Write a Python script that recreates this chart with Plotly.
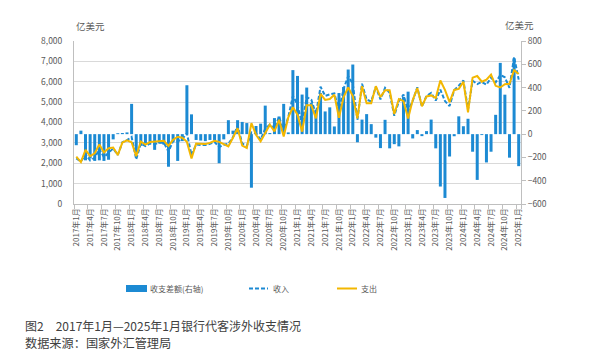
import plotly.graph_objects as go

# ---------------- data (亿美元) ----------------
months = [f"{y}年{m}月" for y in range(2017, 2026) for m in range(1, 13)][:97]

balance = [  # 收支差额(右轴)
    -95, 30, -225, -210, -230, -225, -230, -220, -45, 8, 10, 15,
    260, -160, -100, -80, -70, -135, -80, -90, -280, -60, -230, -60,
    420, 170, -50, -55, -60, -50, -55, -250, -45, 120, 30, 120,
    105, 95, -460, 70, 90, 245, 10, 138, 152, 260, 15, 550,
    500, 340, 400, 267, 210, 353, 195, 230, 66, 353, 405, 555,
    598, -70, 125, 172, 86, -30, -120, 123, -122, -86, -105, 320,
    365, -37, 35, -17, 26, 125, -122, -450, -548, -192, -18, 153,
    68, 132, -151, -393, -8, -243, -151, 166, 612, 339, -202, 650,
    -275,
]

receipts = [  # 收入
    2235, 2090, 2435, 2140, 2260, 2695, 2300, 2520, 2725, 2408, 3030, 3135,
    3290, 2190, 2970, 2840, 2970, 2935, 3010, 3010, 2570, 3090, 3070, 3190,
    3470, 2400, 2920, 2895, 2890, 2950, 3045, 2800, 2905, 2950, 3280, 3840,
    2975, 2845, 3510, 3470, 3160, 3695, 3900, 3698, 4282, 3570, 4265, 5300,
    4880, 3890, 5250, 5117, 4410, 5753, 5305, 5380, 5426, 4583, 5655, 6275,
    5898, 4130, 5905, 5122, 5036, 5750, 5130, 5703, 5458, 4334, 5045, 5370,
    4565, 5063, 5725, 4783, 5306, 5455, 5078, 5610, 5052, 4808, 5582, 5803,
    6068, 4632, 6049, 5887, 5992, 5857, 6199, 5966, 6332, 6219, 5698, 7220,
    6105,
]

payments = [  # 支出
    2330, 2060, 2660, 2350, 2490, 2920, 2530, 2740, 2770, 2400, 3020, 3120,
    3030, 2350, 3070, 2920, 3040, 3070, 3090, 3100, 2850, 3150, 3300, 3250,
    3050, 2230, 2970, 2950, 2950, 3000, 3100, 3050, 2950, 2830, 3250, 3720,
    2870, 2750, 3970, 3400, 3070, 3450, 3890, 3560, 4130, 3310, 4250, 4750,
    4380, 3550, 4850, 4850, 4200, 5400, 5110, 5150, 5360, 4230, 5250, 5720,
    5300, 4200, 5780, 4950, 4950, 5780, 5250, 5580, 5580, 4420, 5150, 5050,
    4200, 5100, 5690, 4800, 5280, 5330, 5200, 6060, 5600, 5000, 5600, 5650,
    6000, 4500, 6200, 6280, 6000, 6100, 6350, 5800, 5720, 5880, 5900, 6570,
    6380,
]

tick_months = months[::3]
left_ticks = list(range(0, 8001, 1000))
right_ticks = list(range(-600, 801, 200))

# ---------------- styling ----------------
BLUE = "#1C8AD3"
GOLD = "#F3B700"
GRID = "#D9D9D9"
AXIS = "#BFBFBF"
TXT = "#595959"
FONT = "Noto Sans CJK SC, Liberation Sans, sans-serif"

W, H = 591, 360
L, R, T, B = 74, 70, 41, 156
PW, PH = W - L - R, H - T - B


def px(x):
    return (x - L) / PW


def py(y):
    return (T + PH - y) / PH


fig = go.Figure()
fig.add_trace(go.Bar(
    x=months, y=balance, name="收支差额(右轴)", marker=dict(color=BLUE, line=dict(width=0)),
    yaxis="y", showlegend=False,
))
fig.add_trace(go.Scatter(
    x=months, y=receipts, name="收入", mode="lines",
    line=dict(color=BLUE, width=2, dash="4px,2px"), yaxis="y2", showlegend=False,
))
fig.add_trace(go.Scatter(
    x=months, y=payments, name="支出", mode="lines",
    line=dict(color=GOLD, width=2), yaxis="y2", showlegend=False,
))

shapes = [
    dict(type="rect", xref="paper", yref="paper", x0=px(126), x1=px(147), y0=py(292), y1=py(285),
         fillcolor=BLUE, line=dict(width=0)),
    dict(type="line", xref="paper", yref="paper", x0=px(249), x1=px(268), y0=py(288.5), y1=py(288.5),
         line=dict(color=BLUE, width=2, dash="4px,2px")),
    dict(type="line", xref="paper", yref="paper", x0=px(337), x1=px(357), y0=py(288.5), y1=py(288.5),
         line=dict(color=GOLD, width=2)),
]

annotations = [
    dict(text="亿美元", x=px(74), y=py(26), xref="paper", yref="paper", xanchor="left", yanchor="middle",
         showarrow=False, font=dict(size=9.5, color=TXT, family=FONT)),
    dict(text="亿美元", x=px(503), y=py(25), xref="paper", yref="paper", xanchor="left", yanchor="middle",
         showarrow=False, font=dict(size=9.5, color=TXT, family=FONT)),
    dict(text="收支差额(右轴)", x=px(148), y=py(288.5), xref="paper", yref="paper", xanchor="left",
         yanchor="middle", showarrow=False, font=dict(size=8, color=TXT, family=FONT)),
    dict(text="收入", x=px(271), y=py(288.5), xref="paper", yref="paper", xanchor="left",
         yanchor="middle", showarrow=False, font=dict(size=8, color=TXT, family=FONT)),
    dict(text="支出", x=px(359), y=py(288.5), xref="paper", yref="paper", xanchor="left",
         yanchor="middle", showarrow=False, font=dict(size=8, color=TXT, family=FONT)),
    dict(text="图2　2017年1月—2025年1月银行代客涉外收支情况", x=px(23), y=py(325), xref="paper",
         yref="paper", xanchor="left", yanchor="middle", showarrow=False,
         font=dict(size=12, color="#404040", family=FONT)),
    dict(text="数据来源：国家外汇管理局", x=px(23), y=py(343), xref="paper",
         yref="paper", xanchor="left", yanchor="middle", showarrow=False,
         font=dict(size=12.2, color="#404040", family=FONT)),
]

fig.update_layout(
    width=W, height=H,
    margin=dict(l=L, r=R, t=T, b=B, pad=0),
    paper_bgcolor="white", plot_bgcolor="white",
    bargap=0.35,
    hovermode=False,
    font=dict(family=FONT, color=TXT, size=8.5),
    xaxis=dict(
        type="category", categoryorder="array", categoryarray=months,
        tickmode="array", tickvals=tick_months, ticktext=tick_months,
        tickangle=-90, ticks="outside", ticklen=4, tickcolor=AXIS, tickson="boundaries",
        showline=True, linecolor=AXIS, linewidth=1, showgrid=False,
        tickfont=dict(size=8, color=TXT, family=FONT),
        range=[-0.5, 96.5],
    ),
    yaxis=dict(
        side="right", range=[-600, 800], tickmode="array", tickvals=right_ticks,
        showgrid=False, zeroline=False, showline=True, linecolor=AXIS, linewidth=1,
        ticks="outside", ticklen=4, tickcolor=AXIS,
        tickfont=dict(size=8.5, color=TXT, family=FONT),
    ),
    yaxis2=dict(
        side="left", overlaying="y", range=[0, 8000], tickmode="array", tickvals=left_ticks,
        tickformat=",", showgrid=True, gridcolor=GRID, gridwidth=1, zeroline=False,
        showline=True, linecolor=AXIS, linewidth=1, ticks="", ticklabelstandoff=9,
        tickfont=dict(size=8.5, color=TXT, family=FONT),
    ),
    shapes=shapes,
    annotations=annotations,
    showlegend=False,
)

fig.write_html(
    "out.html",
    config={"displayModeBar": False, "staticPlot": True},
    post_script="document.body.style.margin='0';document.body.style.padding='0';",
)
